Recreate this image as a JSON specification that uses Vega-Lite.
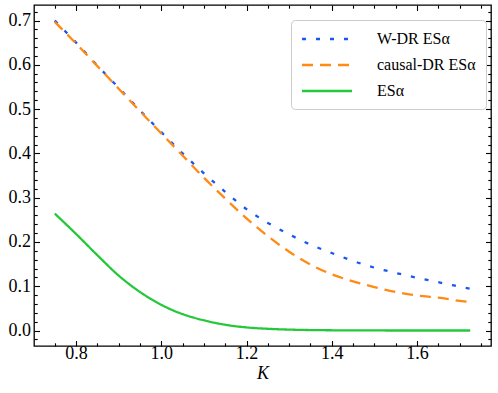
{
  "$schema": "https://vega.github.io/schema/vega-lite/v6.json",
  "width": 457,
  "height": 341,
  "padding": {"left": 34, "top": 5, "right": 7, "bottom": 47},
  "autosize": {"type": "none"},
  "config": {
    "view": {"stroke": "#000", "strokeWidth": 1.3},
    "font": "'Liberation Serif', 'Times New Roman', serif",
    "axis": {"domain": false, "grid": false, "tickColor": "#000", "labelColor": "#000", "labelFont": "'Liberation Serif', 'Times New Roman', serif", "labelFontSize": 18, "tickWidth": 1.1},
    "legend": {"labelFont": "'Liberation Serif', 'Times New Roman', serif"}
  },
  "data": {"values": [
    {"K": 0.75, "v": 0.700, "s": "W-DR ESα"},
    {"K": 0.80, "v": 0.650, "s": "W-DR ESα"},
    {"K": 0.85, "v": 0.598, "s": "W-DR ESα"},
    {"K": 0.90, "v": 0.548, "s": "W-DR ESα"},
    {"K": 0.95, "v": 0.497, "s": "W-DR ESα"},
    {"K": 1.00, "v": 0.448, "s": "W-DR ESα"},
    {"K": 1.05, "v": 0.400, "s": "W-DR ESα"},
    {"K": 1.10, "v": 0.355, "s": "W-DR ESα"},
    {"K": 1.15, "v": 0.313, "s": "W-DR ESα"},
    {"K": 1.20, "v": 0.274, "s": "W-DR ESα"},
    {"K": 1.25, "v": 0.243, "s": "W-DR ESα"},
    {"K": 1.30, "v": 0.217, "s": "W-DR ESα"},
    {"K": 1.35, "v": 0.194, "s": "W-DR ESα"},
    {"K": 1.40, "v": 0.175, "s": "W-DR ESα"},
    {"K": 1.45, "v": 0.157, "s": "W-DR ESα"},
    {"K": 1.50, "v": 0.142, "s": "W-DR ESα"},
    {"K": 1.55, "v": 0.130, "s": "W-DR ESα"},
    {"K": 1.60, "v": 0.119, "s": "W-DR ESα"},
    {"K": 1.65, "v": 0.109, "s": "W-DR ESα"},
    {"K": 1.70, "v": 0.099, "s": "W-DR ESα"},
    {"K": 1.725, "v": 0.094, "s": "W-DR ESα"},
    {"K": 0.75, "v": 0.697, "s": "causal-DR ESα"},
    {"K": 0.80, "v": 0.648, "s": "causal-DR ESα"},
    {"K": 0.85, "v": 0.597, "s": "causal-DR ESα"},
    {"K": 0.90, "v": 0.546, "s": "causal-DR ESα"},
    {"K": 0.95, "v": 0.495, "s": "causal-DR ESα"},
    {"K": 1.00, "v": 0.445, "s": "causal-DR ESα"},
    {"K": 1.05, "v": 0.395, "s": "causal-DR ESα"},
    {"K": 1.10, "v": 0.345, "s": "causal-DR ESα"},
    {"K": 1.15, "v": 0.298, "s": "causal-DR ESα"},
    {"K": 1.20, "v": 0.253, "s": "causal-DR ESα"},
    {"K": 1.25, "v": 0.213, "s": "causal-DR ESα"},
    {"K": 1.30, "v": 0.178, "s": "causal-DR ESα"},
    {"K": 1.35, "v": 0.149, "s": "causal-DR ESα"},
    {"K": 1.40, "v": 0.127, "s": "causal-DR ESα"},
    {"K": 1.45, "v": 0.111, "s": "causal-DR ESα"},
    {"K": 1.50, "v": 0.098, "s": "causal-DR ESα"},
    {"K": 1.55, "v": 0.087, "s": "causal-DR ESα"},
    {"K": 1.60, "v": 0.079, "s": "causal-DR ESα"},
    {"K": 1.65, "v": 0.074, "s": "causal-DR ESα"},
    {"K": 1.70, "v": 0.067, "s": "causal-DR ESα"},
    {"K": 1.725, "v": 0.064, "s": "causal-DR ESα"},
    {"K": 0.75, "v": 0.264, "s": "ESα"},
    {"K": 0.80, "v": 0.218, "s": "ESα"},
    {"K": 0.85, "v": 0.170, "s": "ESα"},
    {"K": 0.90, "v": 0.124, "s": "ESα"},
    {"K": 0.95, "v": 0.087, "s": "ESα"},
    {"K": 1.00, "v": 0.058, "s": "ESα"},
    {"K": 1.05, "v": 0.037, "s": "ESα"},
    {"K": 1.10, "v": 0.023, "s": "ESα"},
    {"K": 1.15, "v": 0.013, "s": "ESα"},
    {"K": 1.20, "v": 0.007, "s": "ESα"},
    {"K": 1.25, "v": 0.0038, "s": "ESα"},
    {"K": 1.30, "v": 0.002, "s": "ESα"},
    {"K": 1.35, "v": 0.001, "s": "ESα"},
    {"K": 1.40, "v": 0.0005, "s": "ESα"},
    {"K": 1.50, "v": 0.0001, "s": "ESα"},
    {"K": 1.60, "v": 0.0, "s": "ESα"},
    {"K": 1.725, "v": 0.0, "s": "ESα"}
  ]},
  "resolve": {"axis": {"x": "independent", "y": "independent"}},
  "layer": [
    {
      "mark": {"type": "line", "strokeWidth": 2.3, "interpolate": "monotone"},
      "encoding": {
        "x": {"field": "K", "type": "quantitative", "scale": {"domain": [0.70125, 1.77375], "nice": false, "zero": false},
          "axis": {"orient": "bottom", "values": [0.8, 1.0, 1.2, 1.4, 1.6], "format": ".1f", "tickSize": -5.5, "labelPadding": 4, "title": "K", "titleFont": "'Liberation Serif', 'Times New Roman', serif", "titleFontStyle": "italic", "titleFontWeight": "normal", "titleFontSize": 18, "titlePadding": 2, "titleColor": "#000"}},
        "y": {"field": "v", "type": "quantitative", "scale": {"domain": [-0.035, 0.735], "nice": false, "zero": false},
          "axis": {"orient": "left", "values": [0, 0.1, 0.2, 0.3, 0.4, 0.5, 0.6, 0.7], "format": ".1f", "tickSize": -5.5, "labelPadding": 9, "title": null}},
        "color": {"field": "s", "type": "nominal", "scale": {"domain": ["W-DR ESα", "causal-DR ESα", "ESα"], "range": ["#1a56f0", "#ff8a14", "#25c83a"]},
          "legend": {"orient": "none", "legendX": 257, "legendY": 15, "title": null, "symbolType": "M-1,0H5.25", "symbolSize": 256, "symbolStrokeWidth": 2.3, "labelOffset": 57.5, "labelFontSize": 16, "labelFont": "'Liberation Serif', 'Times New Roman', serif", "labelColor": "#000", "rowPadding": 8, "padding": 9.5, "strokeColor": "#cccccc", "cornerRadius": 4, "fillColor": "#ffffff"}},
        "strokeDash": {"field": "s", "type": "nominal", "scale": {"domain": ["W-DR ESα", "causal-DR ESα", "ESα"], "range": [[4, 10], [11, 7], [1, 0]]}, "legend": null}
      }
    },
    {
      "mark": {"type": "line", "strokeOpacity": 0},
      "encoding": {
        "detail": {"field": "s"},
        "x": {"field": "K", "type": "quantitative", "axis": {"orient": "bottom", "values": [0.75, 0.85, 0.9, 0.95, 1.05, 1.1, 1.15, 1.25, 1.3, 1.35, 1.45, 1.5, 1.55, 1.65, 1.7, 1.75], "labels": false, "tickSize": -3.2, "title": null}},
        "y": {"field": "v", "type": "quantitative", "axis": {"orient": "left", "values": [-0.02, 0.02, 0.04, 0.06, 0.08, 0.12, 0.14, 0.16, 0.18, 0.22, 0.24, 0.26, 0.28, 0.32, 0.34, 0.36, 0.38, 0.42, 0.44, 0.46, 0.48, 0.52, 0.54, 0.56, 0.58, 0.62, 0.64, 0.66, 0.68, 0.72], "labels": false, "tickSize": -3.2, "title": null}}
      }
    },
    {
      "mark": {"type": "line", "strokeOpacity": 0},
      "encoding": {
        "detail": {"field": "s"},
        "x": {"field": "K", "type": "quantitative", "axis": {"orient": "top", "values": [0.8, 1.0, 1.2, 1.4, 1.6], "labels": false, "tickSize": -5.5, "title": null}},
        "y": {"field": "v", "type": "quantitative", "axis": {"orient": "right", "values": [0, 0.1, 0.2, 0.3, 0.4, 0.5, 0.6, 0.7], "labels": false, "tickSize": -5.5, "title": null}}
      }
    },
    {
      "mark": {"type": "line", "strokeOpacity": 0},
      "encoding": {
        "detail": {"field": "s"},
        "x": {"field": "K", "type": "quantitative", "axis": {"orient": "top", "values": [0.75, 0.85, 0.9, 0.95, 1.05, 1.1, 1.15, 1.25, 1.3, 1.35, 1.45, 1.5, 1.55, 1.65, 1.7, 1.75], "labels": false, "tickSize": -3.2, "title": null}},
        "y": {"field": "v", "type": "quantitative", "axis": {"orient": "right", "values": [-0.02, 0.02, 0.04, 0.06, 0.08, 0.12, 0.14, 0.16, 0.18, 0.22, 0.24, 0.26, 0.28, 0.32, 0.34, 0.36, 0.38, 0.42, 0.44, 0.46, 0.48, 0.52, 0.54, 0.56, 0.58, 0.62, 0.64, 0.66, 0.68, 0.72], "labels": false, "tickSize": -3.2, "title": null}}
      }
    }
  ]
}
